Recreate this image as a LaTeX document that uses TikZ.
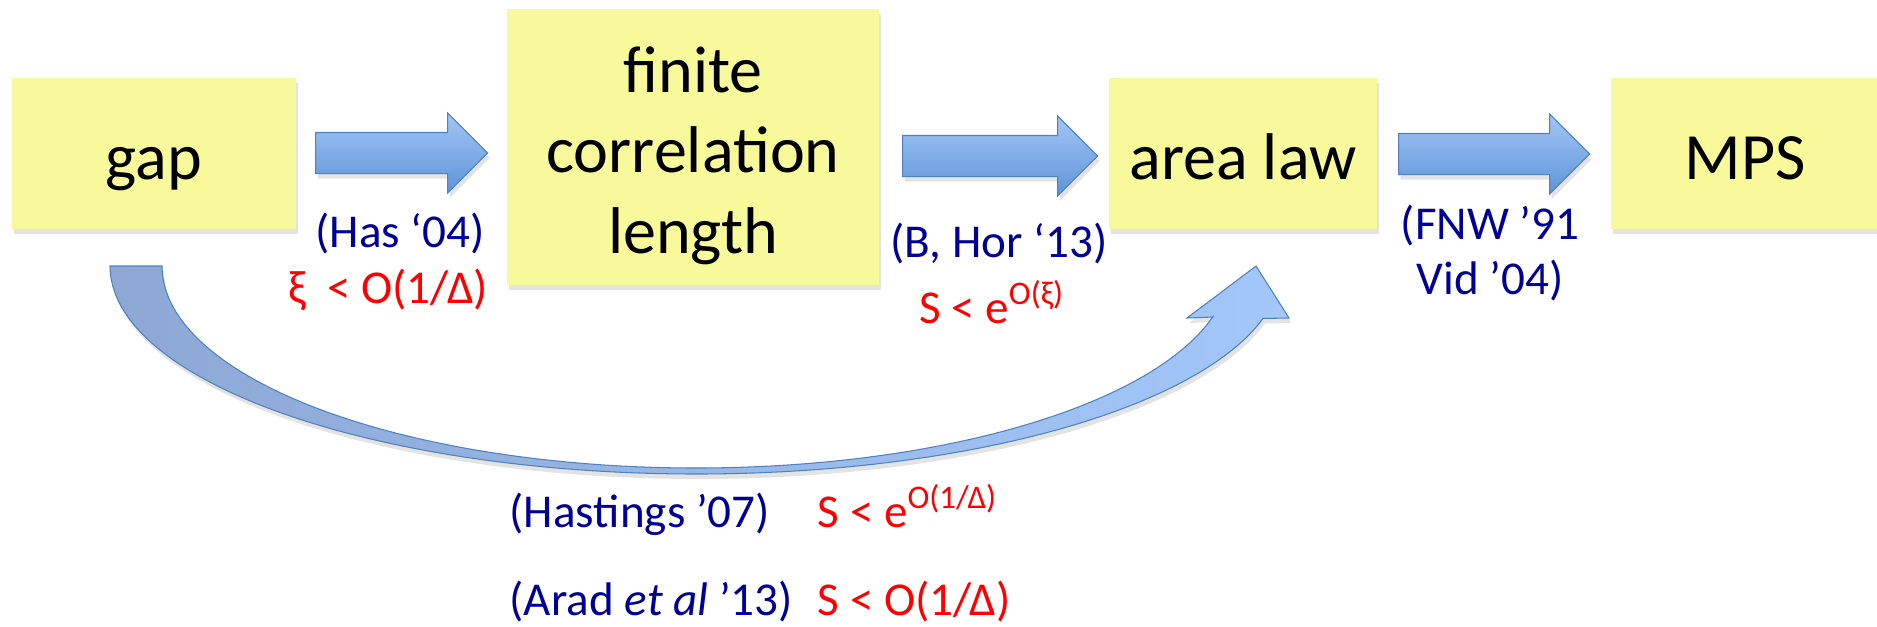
\documentclass[tikz,border=0pt]{standalone}
\usepackage{fontspec}
\setmainfont{Carlito}
\usetikzlibrary{shapes.arrows,shadows}

\definecolor{amarelo}{RGB}{247,249,155}
\definecolor{azulref}{RGB}{0,0,150}
\definecolor{azulborda}{RGB}{79,129,189}
\definecolor{azulclaro}{RGB}{162,198,246}
\definecolor{azulescuro}{RGB}{94,148,216}
\definecolor{curvaesq}{RGB}{141,168,213}
\definecolor{curvameio}{RGB}{80,128,192}
\definecolor{curvadir}{RGB}{162,199,248}

\begin{document}
\begin{tikzpicture}[
			x=0.01cm, y=-0.01cm,
			sombra/.style={drop shadow={opacity=0.22, shadow xshift=0.02cm, shadow yshift=-0.05cm}},
			caixa/.style={fill=amarelo, inner sep=0pt, font=\fontsize{18.8}{22.8}\selectfont, text height=0.51cm, text depth=0cm, sombra},
			seta/.style={single arrow, anchor=tail, draw=azulborda, line width=0.3pt, top color=azulclaro, bottom color=azulescuro, inner xsep=0pt, inner ysep=0.2cm, single arrow head extend=0.195cm, sombra},
			cit/.style={text=azulref, inner sep=0pt, font=\fontsize{13.4}{15.9}\selectfont},
			limite/.style={text=red, inner sep=0pt, font=\fontsize{13.4}{15.9}\selectfont}
		]
		\useasboundingbox (0,0) rectangle (1877,626);

		% caixas
		\node[caixa, minimum width=2.84cm, minimum height=1.51cm] (gap) at (154,153.5) {gap};
		\node[caixa, minimum width=3.72cm, minimum height=2.76cm, text height=2.12cm] (corr) at (693,147) {\begin{tabular}[b]{@{}c@{}}finite\\ correlation\\ length\end{tabular}};
		\node[caixa, minimum width=2.68cm, minimum height=1.51cm] (area) at (1243,153.5) {area law};
		\node[caixa, minimum width=2.68cm, minimum height=1.51cm] (mps) at (1745,153.5) {MPS};

		% setas
		\node[seta, minimum height=1.72cm] (s1) at (315,153) {};
		\node[seta, minimum height=1.95cm] (s2) at (902,156) {};
		\node[seta, minimum height=1.91cm] (s3) at (1398,154) {};

		% seta curva gap -> area law
		\path[draw=azulborda, line width=0.3pt, left color=curvaesq, middle color=curvameio, right color=curvadir, sombra]
			(110,266) -- plot[domain=180:345.4, samples=90] ({696+586*cos(\x)}, {266-208*sin(\x)})
			-- (1289,318) -- (1256,266) -- (1187,318) -- (1213,317)
			-- plot[domain=345.5:180, samples=90] ({696+534*cos(\x)}, {266-202*sin(\x)}) -- cycle;

		% referencias
		\node[cit, anchor=base] (has) at (400,247) {(Has ‘04)};
		\node[limite, anchor=base] (xi) at (388,303) {ξ~ < O(1/Δ)};
		\node[cit, anchor=base] (bhor) at (999,257) {(B, Hor ‘13)};
		\node[limite, anchor=base] (sxi) at (992,323) {S < e\textsuperscript{O(ξ)}};
		\node[cit, anchor=base] (fnw) at (1490,239) {\begin{tabular}[t]{@{}c@{}}(FNW ’91\\ Vid ’04)\end{tabular}};
		\node[cit, anchor=base west] (hastings) at (509,527) {(Hastings ’07)};
		\node[limite, anchor=base west] (shast) at (817,527) {S < e\textsuperscript{O(1/Δ)}};
		\node[cit, anchor=base west] (arad) at (509,615) {(Arad \textit{et al} ’13)};
		\node[limite, anchor=base west] (sarad) at (817,615) {S < O(1/Δ)};
	\end{tikzpicture}
\end{document}
